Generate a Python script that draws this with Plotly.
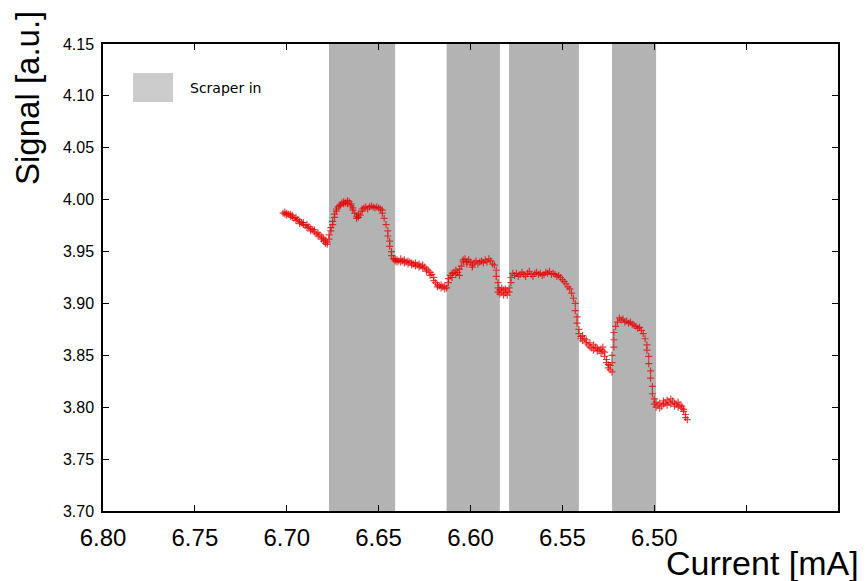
import plotly.graph_objects as go

# ---------------- data ----------------
current = [
    # before scraper 1
    6.702, 6.701, 6.701, 6.700, 6.700, 6.699, 6.698, 6.698, 6.697, 6.697, 6.696, 6.695, 6.695, 6.694,
    6.693, 6.693, 6.692, 6.691, 6.691, 6.690, 6.689, 6.689, 6.688, 6.687, 6.687, 6.686, 6.685, 6.685,
    6.684, 6.683, 6.683, 6.682, 6.681, 6.681, 6.680, 6.680, 6.679, 6.679, 6.678, 6.678,
    # scraper 1
    6.677, 6.677, 6.676, 6.676, 6.675, 6.675, 6.674, 6.674, 6.673, 6.673, 6.672, 6.671, 6.671, 6.670,
    6.669, 6.669, 6.668, 6.667, 6.667, 6.666, 6.665, 6.665, 6.664, 6.664, 6.663, 6.662, 6.662, 6.661,
    6.661, 6.660, 6.659, 6.659, 6.658, 6.657, 6.656, 6.655, 6.654, 6.653, 6.652, 6.651, 6.650, 6.649,
    6.648, 6.648, 6.647, 6.646, 6.645, 6.645, 6.644, 6.644, 6.643, 6.643, 6.642,
    # between 1 and 2
    6.641, 6.641, 6.640, 6.640, 6.639, 6.638, 6.638, 6.637, 6.636, 6.636, 6.635, 6.634, 6.634, 6.633,
    6.632, 6.632, 6.631, 6.630, 6.630, 6.629, 6.628, 6.628, 6.627, 6.626, 6.626, 6.625, 6.624, 6.624,
    6.623, 6.622, 6.622, 6.621, 6.620, 6.620, 6.619, 6.618, 6.618, 6.617, 6.616, 6.616, 6.615, 6.614,
    6.614, 6.613,
    # scraper 2
    6.612, 6.612, 6.611, 6.610, 6.610, 6.609, 6.608, 6.608, 6.607, 6.606, 6.606, 6.605, 6.604, 6.604,
    6.603, 6.602, 6.602, 6.601, 6.600, 6.599, 6.599, 6.598, 6.597, 6.596, 6.595, 6.594, 6.593, 6.592,
    6.591, 6.590, 6.589, 6.588, 6.587, 6.586, 6.586, 6.585, 6.585,
    # between 2 and 3
    6.585, 6.584, 6.584, 6.583, 6.583, 6.582, 6.582, 6.581, 6.581, 6.580, 6.580, 6.579, 6.579,
    # scraper 3
    6.578, 6.578, 6.577, 6.576, 6.575, 6.574, 6.573, 6.572, 6.571, 6.570, 6.569, 6.568, 6.567, 6.566,
    6.565, 6.564, 6.563, 6.562, 6.561, 6.560, 6.559, 6.558, 6.557, 6.556, 6.555, 6.554, 6.553, 6.552,
    6.551, 6.550, 6.549, 6.548, 6.547, 6.546, 6.545, 6.544, 6.543, 6.543, 6.542, 6.542, 6.541,
    # between 3 and 4
    6.541, 6.540, 6.540, 6.539, 6.539, 6.538, 6.537, 6.537, 6.536, 6.535, 6.535, 6.534, 6.533, 6.533,
    6.532, 6.531, 6.531, 6.530, 6.529, 6.529, 6.528, 6.528, 6.527, 6.527, 6.526, 6.526, 6.525, 6.525,
    6.524, 6.524, 6.523,
    # scraper 4
    6.523, 6.523, 6.522, 6.522, 6.522, 6.521, 6.520, 6.519, 6.518, 6.517, 6.516, 6.515, 6.514, 6.513,
    6.512, 6.511, 6.510, 6.509, 6.508, 6.507, 6.506, 6.505, 6.504, 6.504, 6.503, 6.503, 6.502, 6.502,
    6.501, 6.501, 6.500,
    # after scraper 4
    6.500, 6.499, 6.499, 6.498, 6.497, 6.497, 6.496, 6.495, 6.495, 6.494, 6.493, 6.493, 6.492, 6.491,
    6.491, 6.490, 6.489, 6.489, 6.488, 6.487, 6.487, 6.486, 6.485, 6.485, 6.484, 6.484, 6.483, 6.483,
    6.482,
]

signal = [
    3.987, 3.986, 3.988, 3.985, 3.987, 3.986, 3.984, 3.986, 3.983, 3.985, 3.982, 3.983, 3.980, 3.981,
    3.979, 3.977, 3.978, 3.976, 3.978, 3.975, 3.976, 3.973, 3.974, 3.972, 3.970, 3.971, 3.969, 3.971,
    3.967, 3.968, 3.965, 3.966, 3.964, 3.962, 3.963, 3.960, 3.961, 3.958, 3.959, 3.957,
    3.962, 3.966, 3.970, 3.973, 3.976, 3.979, 3.983, 3.986, 3.989, 3.991, 3.993, 3.995, 3.994, 3.997,
    3.996, 3.998, 3.997, 3.999, 3.996, 3.998, 3.996, 3.994, 3.992, 3.990, 3.987, 3.984, 3.982, 3.983,
    3.986, 3.985, 3.989, 3.991, 3.992, 3.993, 3.991, 3.993, 3.994, 3.993, 3.992, 3.993, 3.992, 3.991,
    3.990, 3.987, 3.982, 3.976, 3.970, 3.965, 3.960, 3.955, 3.950, 3.946, 3.943,
    3.941, 3.943, 3.940, 3.942, 3.941, 3.943, 3.940, 3.941, 3.942, 3.939, 3.940, 3.941, 3.938, 3.940,
    3.939, 3.937, 3.938, 3.939, 3.936, 3.937, 3.938, 3.935, 3.936, 3.934, 3.937, 3.935, 3.933, 3.931,
    3.932, 3.930, 3.927, 3.928, 3.925, 3.922, 3.920, 3.918, 3.916, 3.917, 3.915, 3.918, 3.916, 3.914,
    3.917, 3.915,
    3.920, 3.924, 3.927, 3.929, 3.925, 3.930, 3.928, 3.932, 3.930, 3.927, 3.933, 3.936, 3.940, 3.942,
    3.943, 3.940, 3.938, 3.942, 3.940, 3.937, 3.935, 3.939, 3.941, 3.938, 3.940, 3.941, 3.939, 3.942,
    3.940, 3.943, 3.941, 3.938, 3.937, 3.932, 3.926, 3.920, 3.915,
    3.911, 3.913, 3.909, 3.915, 3.911, 3.908, 3.913, 3.910, 3.914, 3.912, 3.908, 3.911, 3.915,
    3.920, 3.925, 3.929, 3.927, 3.929, 3.926, 3.928, 3.930, 3.928, 3.926, 3.929, 3.931, 3.928, 3.926,
    3.929, 3.930, 3.928, 3.929, 3.927, 3.928, 3.930, 3.929, 3.931, 3.928, 3.929, 3.928, 3.926, 3.927,
    3.925, 3.923, 3.921, 3.919, 3.916, 3.914, 3.910, 3.905, 3.900, 3.893, 3.887, 3.881, 3.875,
    3.871, 3.868, 3.866, 3.869, 3.864, 3.866, 3.862, 3.865, 3.860, 3.862, 3.858, 3.857, 3.860, 3.855,
    3.858, 3.854, 3.857, 3.855, 3.852, 3.856, 3.854, 3.858, 3.853, 3.849, 3.846, 3.843, 3.841, 3.838,
    3.836, 3.840, 3.834,
    3.843, 3.850, 3.858, 3.865, 3.872, 3.878, 3.882, 3.886, 3.884, 3.885, 3.882, 3.883, 3.881, 3.882,
    3.880, 3.879, 3.878, 3.876, 3.877, 3.874, 3.871, 3.866, 3.860, 3.855, 3.849, 3.842, 3.835, 3.828,
    3.820, 3.813, 3.808,
    3.803, 3.800, 3.805, 3.802, 3.799, 3.804, 3.801, 3.803, 3.806, 3.804, 3.807, 3.802, 3.805, 3.808,
    3.803, 3.806, 3.804, 3.801, 3.803, 3.800, 3.805, 3.802, 3.799, 3.801, 3.796, 3.798, 3.793, 3.790,
    3.788,
]

scraper_start = [6.677, 6.613, 6.579, 6.523]
scraper_end = [6.641, 6.584, 6.541, 6.499]

x_ticks = [6.80, 6.75, 6.70, 6.65, 6.60, 6.55, 6.50, 6.45, 6.40]
x_tick_labels = ["6.80", "6.75", "6.70", "6.65", "6.60", "6.55", "6.50", "", ""]

# ---------------- layout constants (page pixels) ----------------
OFF = 8                      # page body margin offset
W, H = 865 - OFF, 581 - OFF  # figure size so it fits the window
L, R, T, B = 103, 838, 44, 511   # plot area in page pixels
pw, ph = R - L, B - T


def px_x(px):
    return (px - L) / pw


def px_y(py):
    return (B - py) / ph


fig = go.Figure()

fig.add_trace(go.Scatter(
    x=current, y=signal, mode="markers",
    marker=dict(symbol="cross-thin", size=5, color="rgba(230,0,0,0.75)",
                line=dict(width=1.2, color="rgba(230,0,0,0.75)")),
    showlegend=False, hoverinfo="x+y",
))

shapes = []
for x0, x1 in zip(scraper_start, scraper_end):
    shapes.append(dict(type="rect", xref="x", yref="paper", x0=x0, x1=x1, y0=0, y1=1,
                       fillcolor="#b3b3b3", line=dict(width=0), layer="below"))

# legend swatch
shapes.append(dict(type="rect", xref="paper", yref="paper",
                   x0=px_x(133), x1=px_x(173), y0=px_y(102), y1=px_y(73),
                   fillcolor="#cccccc", line=dict(width=0), layer="above"))

annotations = [
    dict(text="Scraper in", xref="paper", yref="paper", x=px_x(188), y=px_y(88),
         xanchor="left", yanchor="middle", showarrow=False,
         font=dict(family="DejaVu Sans", size=14, color="black")),
    dict(text="Signal [a.u.]", xref="paper", yref="paper", x=px_x(27), y=px_y(98),
         xanchor="center", yanchor="middle", textangle=-90, showarrow=False,
         font=dict(family="Liberation Sans, Arial", size=33, color="black")),
    dict(text="Current [mA]", xref="paper", yref="paper", x=px_x(861), y=px_y(563),
         xanchor="right", yanchor="middle", showarrow=False,
         font=dict(family="Liberation Sans, Arial", size=34, color="black")),
]

fig.update_layout(
    width=W, height=H,
    margin=dict(l=L - OFF, r=W - (R - OFF), t=T - OFF, b=H - (B - OFF), autoexpand=False),
    paper_bgcolor="white", plot_bgcolor="white",
    shapes=shapes, annotations=annotations,
    xaxis=dict(range=[6.80, 6.40], tickvals=x_ticks, ticktext=x_tick_labels,
               ticks="inside", ticklen=6, tickwidth=1.2, tickcolor="black",
               showline=True, linecolor="black", linewidth=1.5, mirror="ticks",
               showgrid=False, zeroline=False, ticklabelstandoff=4,
               tickfont=dict(family="Liberation Sans Narrow, Arial Narrow, Liberation Sans", size=24,
                             color="black")),
    yaxis=dict(range=[3.70, 4.15], dtick=0.05, tick0=3.70, tickformat=".2f",
               ticks="inside", ticklen=6, tickwidth=1.2, tickcolor="black",
               showline=True, linecolor="black", linewidth=1.5, mirror="ticks",
               showgrid=False, zeroline=False, ticklabelstandoff=4,
               tickfont=dict(family="Liberation Sans, Arial", size=16, color="black")),
)

fig.write_html("out.html")
